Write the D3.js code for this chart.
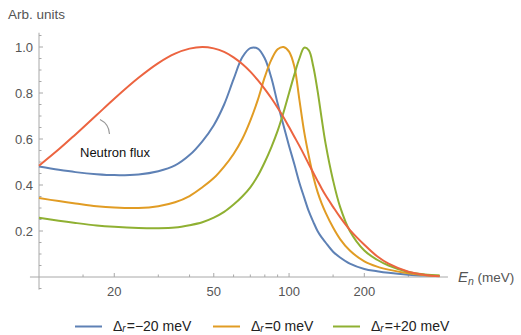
<!DOCTYPE html>
<html>
<head>
<meta charset="utf-8">
<script src="https://cdn.jsdelivr.net/npm/d3@7"></script>
<style>
  html, body { margin: 0; padding: 0; background: #fff; }
  svg { display: block; font-family: "Liberation Sans", Arial, sans-serif; }
</style>
</head>
<body>
<svg id="chart" width="521" height="335"></svg>
<script>
// ---- data ----
const energies = [10, 12, 14, 17, 20, 25, 30, 35, 40, 45, 50, 55, 60, 65, 70, 75, 80, 85, 90, 95, 100, 105, 110, 115, 120, 125, 130, 135, 140, 150, 160, 175, 200, 225, 250, 300, 350, 400];
const neutronFlux = [0.484, 0.555, 0.62, 0.704, 0.775, 0.866, 0.93, 0.971, 0.993, 1.0, 0.994, 0.979, 0.955, 0.926, 0.893, 0.856, 0.817, 0.777, 0.736, 0.695, 0.652, 0.61, 0.57, 0.53, 0.49, 0.453, 0.418, 0.385, 0.355, 0.305, 0.26, 0.205, 0.14, 0.09, 0.058, 0.023, 0.009, 0.003];
const deltaMinus20 = [0.48, 0.466, 0.456, 0.447, 0.443, 0.446, 0.46, 0.485, 0.53, 0.59, 0.66, 0.75, 0.86, 0.955, 0.995, 0.993, 0.95, 0.865, 0.755, 0.66, 0.57, 0.49, 0.41, 0.345, 0.285, 0.24, 0.2, 0.172, 0.15, 0.11, 0.085, 0.058, 0.035, 0.025, 0.018, 0.01, 0.006, 0.004];
const delta0 = [0.343, 0.33, 0.32, 0.308, 0.302, 0.3, 0.308, 0.325, 0.352, 0.39, 0.43, 0.48, 0.535, 0.6, 0.68, 0.77, 0.87, 0.945, 0.99, 1.0, 0.98, 0.915, 0.77, 0.63, 0.525, 0.437, 0.37, 0.32, 0.28, 0.215, 0.165, 0.115, 0.068, 0.045, 0.032, 0.016, 0.008, 0.005];
const deltaPlus20 = [0.258, 0.245, 0.235, 0.224, 0.218, 0.213, 0.212, 0.215, 0.225, 0.238, 0.258, 0.283, 0.315, 0.35, 0.39, 0.44, 0.5, 0.565, 0.635, 0.715, 0.8, 0.88, 0.95, 0.997, 0.985, 0.915, 0.81, 0.69, 0.58, 0.42, 0.305, 0.2, 0.115, 0.075, 0.05, 0.022, 0.011, 0.006];

const xMajorTicks = [20, 50, 100, 200];
const xMinorTicks = [15, 30, 40, 60, 70, 80, 90, 150, 300];
const yMajorTicks = [0.2, 0.4, 0.6, 0.8, 1.0];
const yMinorTicks = [-0.05, 0.05, 0.1, 0.15, 0.25, 0.3, 0.35, 0.45, 0.5, 0.55, 0.65, 0.7, 0.75, 0.85, 0.9, 0.95, 1.05];
const legendParts = [["\u0394", "r", "=\u221220 meV"], ["\u0394", "r", "=0 meV"], ["\u0394", "r", "=+20 meV"]];
const seriesColors = ["#5E81B5", "#E19C24", "#8FB032"];
const fluxColor = "#EC6440";
const fluxLabel = "Neutron flux";
const yAxisTitle = "Arb. units";

// ---- scales ----
const svg = d3.select("#chart");
const x = d3.scaleLog().domain([10, 400]).range([39, 439.6]);
const y = d3.scaleLinear().domain([0, 1]).range([277, 47]);
const xAxisExtent = [9.2, 432];
const yAxisExtent = [-0.055, 1.062];

const axisColor = "#a8a8a8";
const labelColor = "#555";

// axes lines
svg.append("line")
  .attr("x1", x(xAxisExtent[0])).attr("x2", x(xAxisExtent[1]))
  .attr("y1", y(0)).attr("y2", y(0))
  .attr("stroke", axisColor).attr("stroke-width", 1);
svg.append("line")
  .attr("x1", x(10)).attr("x2", x(10))
  .attr("y1", y(yAxisExtent[0])).attr("y2", y(yAxisExtent[1]))
  .attr("stroke", axisColor).attr("stroke-width", 1);

// x ticks
svg.selectAll(".xmaj").data(xMajorTicks).enter().append("line")
  .attr("x1", d => x(d)).attr("x2", d => x(d))
  .attr("y1", y(0)).attr("y2", y(0) - 4)
  .attr("stroke", axisColor);
svg.selectAll(".xmin").data(xMinorTicks).enter().append("line")
  .attr("x1", d => x(d)).attr("x2", d => x(d))
  .attr("y1", y(0)).attr("y2", y(0) - 2.5)
  .attr("stroke", axisColor);
svg.selectAll(".xlab").data(xMajorTicks).enter().append("text")
  .attr("x", d => x(d)).attr("y", y(0) + 18.5)
  .attr("text-anchor", "middle").attr("font-size", 13).attr("fill", labelColor)
  .text(d => d);

// y ticks
svg.selectAll(".ymaj").data(yMajorTicks).enter().append("line")
  .attr("x1", x(10)).attr("x2", x(10) + 4)
  .attr("y1", d => y(d)).attr("y2", d => y(d))
  .attr("stroke", axisColor);
svg.selectAll(".ymin").data(yMinorTicks).enter().append("line")
  .attr("x1", x(10)).attr("x2", x(10) + 2.5)
  .attr("y1", d => y(d)).attr("y2", d => y(d))
  .attr("stroke", axisColor);
svg.selectAll(".ylab").data(yMajorTicks).enter().append("text")
  .attr("x", x(10) - 6).attr("y", d => y(d) + 4.6)
  .attr("text-anchor", "end").attr("font-size", 13).attr("fill", labelColor)
  .text(d => d.toFixed(1));

// axis titles
svg.append("text").attr("x", 8).attr("y", 18.5)
  .attr("font-size", 13.5).attr("fill", labelColor).text(yAxisTitle);
const xt = svg.append("text").attr("x", 458).attr("y", y(0) + 4.5)
  .attr("font-size", 13.5).attr("fill", labelColor);
xt.append("tspan").attr("font-style", "italic").attr("font-size", 15).text("E");
xt.append("tspan").attr("font-style", "italic").attr("font-size", 10.5).attr("dy", 3).text("n");
xt.append("tspan").attr("dy", -3).text(" (meV)");

// curves
const line = d3.line().x((d, i) => x(energies[i])).y(d => y(d)).curve(d3.curveCatmullRom.alpha(0.5));
const allSeries = [deltaMinus20, delta0, deltaPlus20];
allSeries.forEach((s, i) => {
  svg.append("path").datum(s).attr("d", line)
    .attr("fill", "none").attr("stroke", seriesColors[i]).attr("stroke-width", 2);
});
svg.append("path").datum(neutronFlux).attr("d", line)
  .attr("fill", "none").attr("stroke", fluxColor).attr("stroke-width", 2);

// callout
svg.append("path")
  .attr("d", "M100,119.5 Q109,124 109.5,134")
  .attr("fill", "none").attr("stroke", "#999").attr("stroke-width", 1.2);
svg.append("text").attr("x", 80).attr("y", 157)
  .attr("font-size", 13).attr("fill", "#111").text(fluxLabel);

// legend
const legendX = [75, 213, 333];
legendParts.forEach((p, i) => {
  const g = svg.append("g");
  g.append("line").attr("x1", legendX[i]).attr("x2", legendX[i] + 27)
    .attr("y1", 326.5).attr("y2", 326.5)
    .attr("stroke", seriesColors[i]).attr("stroke-width", 2);
  const t = g.append("text").attr("x", legendX[i] + 38).attr("y", 330.5)
    .attr("font-size", 14).attr("fill", "#222");
  t.append("tspan").text(p[0]);
  t.append("tspan").attr("font-style", "italic").attr("font-size", 10).attr("dy", 1.5).text(p[1]);
  t.append("tspan").attr("dy", -1.5).attr("dx", 1).text(p[2]);
});
</script>
</body>
</html>
